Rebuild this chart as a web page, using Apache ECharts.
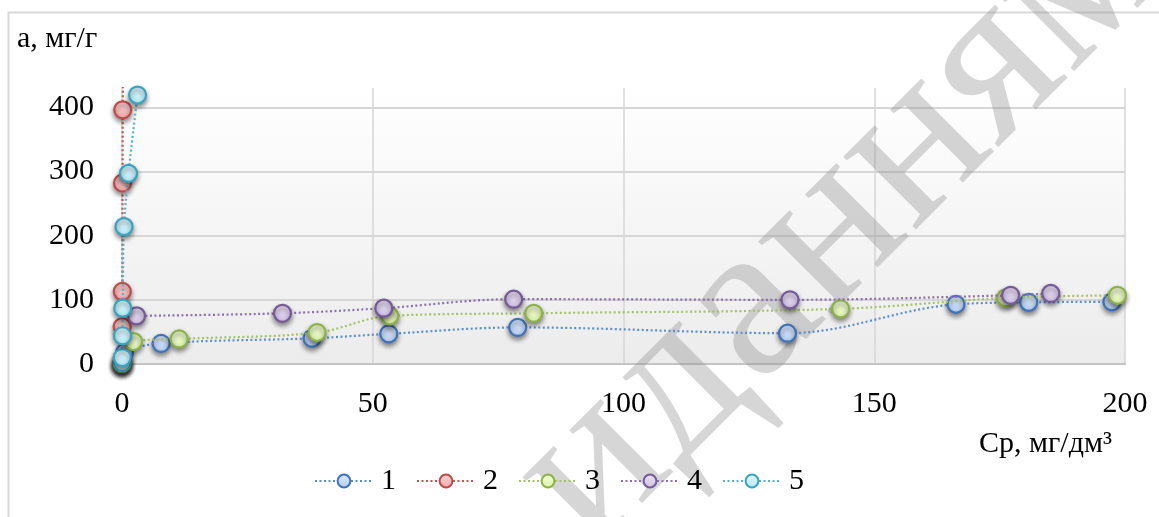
<!DOCTYPE html>
<html>
<head>
<meta charset="utf-8">
<style>
  html, body { margin: 0; padding: 0; background: #ffffff; }
  #chart { width: 1159px; height: 517px; }
</style>
<script src="https://cdn.jsdelivr.net/npm/echarts@6/dist/echarts.min.js"></script>
</head>
<body>
<div id="chart"></div>
<script>
// Adsorption isotherms: a (mg/g) versus equilibrium concentration Cp (mg/dm3)
const seriesNames = ['1', '2', '3', '4', '5'];

const cp1 = [0, 0.5, 7.8, 37.9, 53.2, 78.9, 132.7, 166.3, 180.8, 197.4];
const a1  = [0, 18, 32, 40, 47, 57, 48, 93, 96, 97];

const cp2 = [0.01, 0.03, 0.06, 0.1, 0.15, 0.2];
const a2  = [2, 58, 113, 282, 396, 520];

const cp3 = [0, 2.3, 11.4, 38.9, 53.4, 82.1, 143.3, 176.2, 198.5];
const a3  = [0, 35, 39, 49, 75, 79, 86, 103, 107];

const cp4 = [2.9, 32, 52.2, 78.1, 133.2, 177.2, 185.2];
const a4  = [75, 79, 87, 101, 100, 107, 110];

const cp5 = [0.02, 0.05, 0.1, 0.15, 0.4, 1.3, 3.1];
const a5  = [2, 10, 44, 87, 214, 297, 419];

const xTicks = [0, 50, 100, 150, 200];
const yTicks = [0, 100, 200, 300, 400];

const allCp = [cp1, cp2, cp3, cp4, cp5];
const allA = [a1, a2, a3, a4, a5];

// line colour, marker border, marker fill (top, bottom)
const palette = [
  { line: '#5a8ed3', border: '#3f72b6', top: '#dde9fc', bottom: '#b3cdf4' },
  { line: '#c8524f', border: '#be4b48', top: '#fcd6d6', bottom: '#f2a8a6' },
  { line: '#a3c262', border: '#8cb248', top: '#f4fcdc', bottom: '#dbf2aa' },
  { line: '#8c6fae', border: '#765a98', top: '#ebe2f5', bottom: '#cfbfe3' },
  { line: '#52b3cc', border: '#3aa3c0', top: '#e2f7fd', bottom: '#b5e8f6' }
];

const FONT = '"Liberation Serif", "Times New Roman", serif';

function pairs(xs, ys) {
  return xs.map((x, i) => [x, ys[i]]);
}

const series = seriesNames.map((name, i) => ({
  name: name,
  type: 'line',
  data: pairs(allCp[i], allA[i]),
  smooth: 0.35,
  symbol: 'circle',
  symbolSize: 17,
  showAllSymbol: true,
  clip: true,
  z: 2 + i,
  lineStyle: {
    color: palette[i].line,
    width: 2.2,
    type: [2, 2.5]
  },
  itemStyle: {
    color: {
      type: 'linear', x: 0, y: 0, x2: 0, y2: 1,
      colorStops: [
        { offset: 0, color: palette[i].top },
        { offset: 1, color: palette[i].bottom }
      ]
    },
    borderColor: palette[i].border,
    borderWidth: 2.2,
    shadowColor: 'rgba(0,0,0,0.45)',
    shadowBlur: 5,
    shadowOffsetY: 3
  },
  emphasis: { disabled: true }
}));

const chart = echarts.init(document.getElementById('chart'), null, { renderer: 'canvas' });

chart.setOption({
  animation: false,
  backgroundColor: '#ffffff',
  textStyle: { fontFamily: FONT },
  grid: {
    left: 122,
    right: 34,
    top: 88,
    bottom: 153,
    show: true,
    borderWidth: 0,
    backgroundColor: {
      type: 'linear', x: 0, y: 0, x2: 0, y2: 1,
      colorStops: [
        { offset: 0, color: '#ffffff' },
        { offset: 1, color: '#ececec' }
      ]
    }
  },
  xAxis: {
    type: 'value',
    min: xTicks[0],
    max: xTicks[xTicks.length - 1],
    interval: xTicks[1] - xTicks[0],
    axisLine: { show: true, lineStyle: { color: '#c4c4c4', width: 2 } },
    axisTick: { show: false },
    splitLine: { show: true, lineStyle: { color: '#d6d6d6', width: 1.5 } },
    axisLabel: {
      color: '#000000',
      fontFamily: FONT,
      fontSize: 30,
      margin: 25
    }
  },
  yAxis: {
    type: 'value',
    min: yTicks[0],
    max: 430,
    interval: yTicks[1] - yTicks[0],
    axisLine: { show: false },
    axisTick: { show: false },
    splitLine: {
      show: true,
      lineStyle: {
        color: ['#d6d6d6', '#d6d6d6', '#d6d6d6', '#d6d6d6', '#d6d6d6', 'rgba(0,0,0,0)'],
        width: 2
      }
    },
    axisLabel: {
      color: '#000000',
      fontFamily: FONT,
      fontSize: 30,
      margin: 28,
      padding: [4, 0, 0, 0],
      showMaxLabel: false,
      formatter: v => (yTicks.indexOf(v) >= 0 ? String(v) : '')
    }
  },
  legend: {
    data: seriesNames,
    left: 309,
    top: 461,
    itemWidth: 58,
    itemHeight: 16,
    itemGap: 20,
    selectedMode: false,
    itemStyle: { shadowBlur: 0, shadowOffsetY: 0, shadowColor: 'rgba(0,0,0,0)' },
    textStyle: {
      color: '#000000',
      fontFamily: FONT,
      fontSize: 30,
      padding: [0, 0, 0, 3]
    }
  },
  graphic: [
    {
      type: 'rect',
      silent: true,
      z: -10,
      shape: { x: 8.5, y: 12.5, width: 1200, height: 600 },
      style: { fill: 'none', stroke: '#d9d9d9', lineWidth: 2 }
    },
    {
      type: 'text',
      silent: true,
      left: 17,
      top: 24,
      style: {
        text: 'а, мг/г',
        fill: '#000000',
        font: '30px ' + FONT
      }
    },
    {
      type: 'text',
      silent: true,
      left: 979,
      top: 429,
      style: {
        text: 'Ср, мг/дм³',
        fill: '#000000',
        font: '30px ' + FONT
      }
    },
    {
      type: 'text',
      silent: true,
      z: 1,
      x: 840,
      y: 222,
      rotation: 0.785,
      style: {
        text: 'иданням',
        fill: 'rgba(140,140,140,0.36)',
        font: '224px ' + FONT,
        textAlign: 'center',
        textVerticalAlign: 'middle'
      }
    }
  ],
  series: series
});
</script>
</body>
</html>
